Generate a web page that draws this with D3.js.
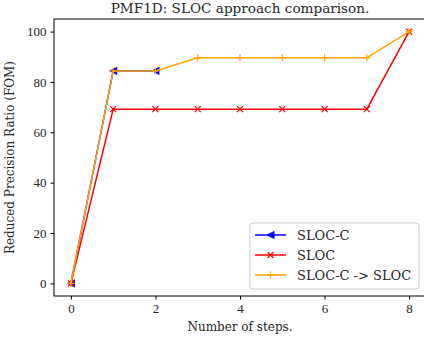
<!DOCTYPE html>
<html>
<head>
<meta charset="utf-8">
<script src="https://cdn.jsdelivr.net/npm/d3@7"></script>
<style>
  html, body { margin: 0; padding: 0; background: #fff; }
  svg text { font-family: "DejaVu Serif", "Liberation Serif", serif; fill: #262626; }
</style>
</head>
<body>
<div id="chart"></div>
<script>
// values
const steps = [0, 1, 2, 3, 4, 5, 6, 7, 8];
const slocC = [0, 84.4, 84.4];
const sloc = [0, 69.2, 69.2, 69.2, 69.2, 69.2, 69.2, 69.2, 100];
const slocCtoSloc = [0, 84.4, 84.4, 89.6, 89.6, 89.6, 89.6, 89.6, 100];
const xTicks = [0, 2, 4, 6, 8];
const yTicks = [0, 20, 40, 60, 80, 100];

const series = [
  { name: 'SLOC-C', values: slocC, color: '#0000ff', marker: 'tri' },
  { name: 'SLOC', values: sloc, color: '#ff0000', marker: 'x' },
  { name: 'SLOC-C -> SLOC', values: slocCtoSloc, color: '#ffa500', marker: 'plus' }
];

const width = 424, height = 341;
const margin = { top: 19, right: -2, bottom: 45, left: 54 };

const svg = d3.select('#chart').append('svg')
  .attr('width', width)
  .attr('height', height);

const x = d3.scaleLinear().domain([-0.4, 8.4]).range([margin.left, width - margin.right]);
const y = d3.scaleLinear().domain([-5, 105]).range([height - margin.bottom, margin.top]);

// title
svg.append('text')
  .attr('x', (margin.left + width - margin.right) / 2)
  .attr('y', 13)
  .attr('text-anchor', 'middle')
  .style('font-size', '13.6px')
  .text('PMF1D: SLOC approach comparison.');

const line = d3.line()
  .x((d, i) => x(steps[i]))
  .y(d => y(d));

function drawMarker(g, kind, cx, cy, color) {
  if (kind === 'tri') {
    const s = 3.6;
    g.append('path')
      .attr('d', `M${cx - s},${cy} L${cx + s},${cy - s} L${cx + s},${cy + s} Z`)
      .attr('fill', color).attr('stroke', color).attr('stroke-width', 0.8);
  } else if (kind === 'x') {
    const s = 3;
    g.append('path')
      .attr('d', `M${cx - s},${cy - s} L${cx + s},${cy + s} M${cx - s},${cy + s} L${cx + s},${cy - s}`)
      .attr('stroke', color).attr('stroke-width', 1.2).attr('fill', 'none');
  } else {
    const s = 3.5;
    g.append('path')
      .attr('d', `M${cx - s},${cy} L${cx + s},${cy} M${cx},${cy - s} L${cx},${cy + s}`)
      .attr('stroke', color).attr('stroke-width', 1.2).attr('fill', 'none');
  }
}

const plot = svg.append('g');
series.forEach(s => {
  const g = plot.append('g');
  g.append('path')
    .datum(s.values)
    .attr('fill', 'none')
    .attr('stroke', s.color)
    .attr('stroke-width', 1.5)
    .attr('d', line);
  s.values.forEach((v, i) => drawMarker(g, s.marker, x(steps[i]), y(v), s.color));
});

// frame
svg.append('rect')
  .attr('x', margin.left)
  .attr('y', margin.top)
  .attr('width', width - margin.right - margin.left)
  .attr('height', height - margin.bottom - margin.top)
  .attr('fill', 'none')
  .attr('stroke', '#000')
  .attr('stroke-width', 1);

// axes
const xAxis = svg.append('g')
  .attr('transform', `translate(0,${height - margin.bottom})`)
  .call(d3.axisBottom(x).tickValues(xTicks).tickSize(3.5).tickPadding(4).tickFormat(d3.format('d')));
const yAxis = svg.append('g')
  .attr('transform', `translate(${margin.left},0)`)
  .call(d3.axisLeft(y).tickValues(yTicks).tickSize(3.5).tickPadding(4).tickFormat(d3.format('d')));
[xAxis, yAxis].forEach(a => {
  a.select('.domain').remove();
  a.selectAll('text').style('font-size', '13px').style('font-family', '"Liberation Serif", serif').attr('fill', '#262626');
  a.selectAll('line').attr('stroke', '#000');
});

svg.append('text')
  .attr('x', (margin.left + width - margin.right) / 2)
  .attr('y', 331)
  .attr('text-anchor', 'middle')
  .style('font-size', '12px')
  .text('Number of steps.');

svg.append('text')
  .attr('transform', `translate(14,${(margin.top + height - margin.bottom) / 2}) rotate(-90)`)
  .attr('text-anchor', 'middle')
  .style('font-size', '12px')
  .text('Reduced Precision Ratio (FOM)');

// legend
const legend = svg.append('g').attr('transform', 'translate(250,223)');
legend.append('rect')
  .attr('width', 169).attr('height', 66).attr('rx', 3)
  .attr('fill', '#fff').attr('fill-opacity', 0.8)
  .attr('stroke', '#ccc').attr('stroke-width', 1);
series.forEach((s, i) => {
  const ly = 12 + i * 20;
  legend.append('line')
    .attr('x1', 5).attr('x2', 36).attr('y1', ly).attr('y2', ly)
    .attr('stroke', s.color).attr('stroke-width', 1.5);
  drawMarker(legend, s.marker, 20.5, ly, s.color);
  legend.append('text')
    .attr('x', 47).attr('y', ly + 4.5)
    .style('font-size', '13px')
    .text(s.name);
});
</script>
</body>
</html>
